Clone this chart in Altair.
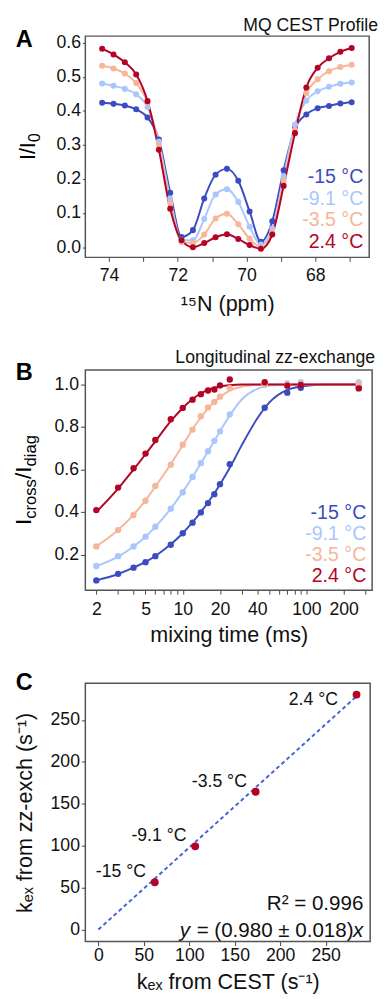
import altair as alt
import pandas as pd

FONT = "Liberation Sans"
TEMPS = ["-15 °C", "-9.1 °C", "-3.5 °C", "2.4 °C"]
COLORS = ["#3B4CC0", "#AAC7FD", "#F7B599", "#B40426"]

# ---------------- Panel A : MQ CEST profile ----------------
cest_ppm = [74.20, 73.87, 73.54, 73.21, 72.88, 72.55, 72.22, 71.89, 71.56, 71.23, 70.90, 70.57,
            70.24, 69.91, 69.58, 69.25, 68.92, 68.59, 68.26, 67.93, 67.60, 67.27, 66.94]
cest_m15 = [0.424, 0.421, 0.416, 0.405, 0.381, 0.316, 0.160, 0.030, 0.050, 0.143, 0.213, 0.230,
            0.195, 0.105, 0.016, 0.076, 0.226, 0.349, 0.390, 0.408, 0.415, 0.422, 0.426]
cest_m91 = [0.481, 0.474, 0.465, 0.449, 0.411, 0.310, 0.143, 0.020, 0.020, 0.083, 0.155, 0.170,
            0.133, 0.060, 0.008, 0.055, 0.208, 0.360, 0.430, 0.458, 0.471, 0.480, 0.484]
cest_m35 = [0.533, 0.525, 0.510, 0.482, 0.425, 0.300, 0.130, 0.015, 0.012, 0.037, 0.084, 0.098,
            0.067, 0.025, 0.000, 0.045, 0.195, 0.345, 0.452, 0.493, 0.517, 0.529, 0.536]
cest_p24 = [0.583, 0.566, 0.543, 0.507, 0.429, 0.286, 0.113, 0.020, 0.000, 0.012, 0.029, 0.038,
            0.024, 0.006, -0.005, 0.037, 0.180, 0.335, 0.469, 0.527, 0.555, 0.574, 0.585]
ppm_ticks = [67, 68, 69, 70, 71, 72, 73, 74]
i_ticks = [0.0, 0.1, 0.2, 0.3, 0.4, 0.5, 0.6]

# ---------------- Panel B : zz-exchange ----------------
zz_time = [2, 3, 4, 5, 6, 8, 10, 12, 14, 16, 18, 20, 24, 46, 70, 90, 265]
zz_m15 = [0.078, 0.109, 0.138, 0.164, 0.192, 0.246, 0.300, 0.350, 0.398, 0.442, 0.484, 0.531,
          0.625, 0.891, 0.962, 0.985, 0.991]
zz_m91 = [0.146, 0.192, 0.238, 0.284, 0.331, 0.416, 0.493, 0.565, 0.630, 0.686, 0.735, 0.780,
          0.860, 0.999, 1.006, 1.011, 1.011]
zz_m35 = [0.238, 0.315, 0.386, 0.453, 0.523, 0.623, 0.717, 0.788, 0.851, 0.892, 0.918, 0.943,
          0.983, 1.000, 1.000, 1.002, 1.000]
zz_p24 = [0.409, 0.515, 0.606, 0.675, 0.739, 0.837, 0.890, 0.929, 0.955, 0.972, 0.977, 0.996,
          1.024, 1.011, 0.995, 0.998, 0.982]
fit_time = [2, 3, 4, 5, 6, 8, 10, 12, 14, 16, 18, 20, 24, 30, 40, 50, 70, 100, 150, 265]
fit_m15 = [0.078, 0.108, 0.138, 0.165, 0.193, 0.248, 0.300, 0.352, 0.400, 0.445, 0.488, 0.530,
           0.608, 0.715, 0.840, 0.915, 0.975, 0.995, 1.000, 1.000]
fit_m91 = [0.145, 0.190, 0.238, 0.284, 0.330, 0.416, 0.495, 0.565, 0.630, 0.685, 0.735, 0.780,
           0.855, 0.930, 0.980, 0.995, 1.000, 1.000, 1.000, 1.000]
fit_m35 = [0.238, 0.315, 0.388, 0.455, 0.520, 0.625, 0.715, 0.790, 0.845, 0.888, 0.918, 0.942,
           0.972, 0.990, 0.998, 1.000, 1.000, 1.000, 1.000, 1.000]
fit_p24 = [0.400, 0.510, 0.600, 0.672, 0.733, 0.828, 0.890, 0.932, 0.958, 0.975, 0.985, 0.991,
           0.997, 1.000, 1.000, 1.000, 1.000, 1.000, 1.000, 1.000]
time_ticks = [2, 3, 4, 5, 6, 7, 8, 9, 10, 20, 30, 40, 50, 60, 70, 80, 90, 100, 200, 300]
time_labels = [2, 5, 10, 20, 40, 100, 200]
zz_ticks = [0.2, 0.4, 0.6, 0.8, 1.0]

# ---------------- Panel C : kex correlation ----------------
kex_cest = [62.0, 106.5, 173.0, 284.0]
kex_zz = [56.4, 99.3, 164.4, 280.4]
kex_fit_x = [0.0, 284.0]
kex_fit_y = [0.0, 278.3]
kex_ticks = [0, 50, 100, 150, 200, 250]

# ---------------- helpers ----------------
CW = {"I": 0.278, "/": 0.278, "c": 0.5, "r": 0.333, "o": 0.556, "s": 0.5, "d": 0.556,
      "i": 0.222, "a": 0.556, "g": 0.556, "0": 0.556}


def tw(s, size):
    return sum(CW[ch] for ch in s) * size


def rotated_title(pieces, x, yc):
    total = sum(tw(t, s) for t, s, _ in pieces)
    layers, off = [], 0.0
    for t, s, dy in pieces:
        layers.append(
            alt.Chart(pd.DataFrame({"t": [t]})).mark_text(
                angle=270, align="left", baseline="alphabetic", font=FONT, fontSize=s,
                dx=off, dy=dy, color="black").encode(
                x=alt.value(x), y=alt.value(yc + total / 2), text="t:N"))
        off += tw(t, s)
    return layers


def label_text(txt, x, y, size=24, weight="bold", align="left", color="black", baseline="alphabetic"):
    return alt.Chart(pd.DataFrame({"t": [txt]})).mark_text(
        font=FONT, fontSize=size, fontWeight=weight, align=align, baseline=baseline,
        color=color).encode(x=alt.value(x), y=alt.value(y), text="t:N")


def long_df(xs, series, xname, yname):
    rows = []
    for t, ys in zip(TEMPS, series):
        for xv, yv in zip(xs, ys):
            rows.append({xname: xv, yname: yv, "T": t})
    return pd.DataFrame(rows)


color_enc = alt.Color("T:N", scale=alt.Scale(domain=TEMPS, range=COLORS), legend=None)
ax_common = dict(grid=False, domain=False, tickColor="#444", tickWidth=1,
                 labelFont=FONT, labelFontSize=18, labelColor="#111",
                 titleFont=FONT, titleFontSize=22, titleFontWeight="normal", titleColor="#111")

# ---------------- Panel A chart ----------------
WA, HA = 290, 226
dfa = long_df(cest_ppm, [cest_m15, cest_m91, cest_m35, cest_p24], "ppm", "I")
xa = alt.X("ppm:Q", scale=alt.Scale(domain=[66.43, 74.69], reverse=True, nice=False, zero=False),
           axis=alt.Axis(values=ppm_ticks, labelExpr="datum.value % 2 == 0 ? datum.label : ''",
                         title="¹⁵N (ppm)", tickSize=4, labelPadding=6, titlePadding=9, **ax_common))
ya = alt.Y("I:Q", scale=alt.Scale(domain=[-0.03, 0.62], nice=False, zero=False),
           axis=alt.Axis(values=i_ticks, format=".1f", title=None, tickSize=3, labelPadding=2, **ax_common))
base_a = alt.Chart(dfa).encode(x=xa, y=ya, color=color_enc)
a_layers = [base_a.mark_line(interpolate="monotone", strokeWidth=2),
            base_a.mark_point(filled=True, opacity=1, size=38)]
for i, t in enumerate(TEMPS):
    a_layers.append(label_text(t, 284, 144 + 22 * i, size=20, weight="normal", align="right",
                               color=COLORS[i], baseline="middle"))
a_layers.append(label_text("A", -71, 11))
a_layers.append(label_text("MQ CEST Profile", 299, -5.7, size=18, weight="normal", align="right", color="#111"))
a_layers += rotated_title([("I/I", 22, 0), ("0", 16, 5)], -51, HA / 2)
chart_a = alt.layer(*a_layers).properties(width=WA, height=HA)

# ---------------- Panel B chart ----------------
WB, HB = 293, 225
dfb = long_df(zz_time, [zz_m15, zz_m91, zz_m35, zz_p24], "t", "r")
dfb_fit = long_df(fit_time, [fit_m15, fit_m91, fit_m35, fit_p24], "t", "r")
xb = alt.X("t:Q", scale=alt.Scale(type="log", domain=[1.63, 340], nice=False),
           axis=alt.Axis(values=time_ticks, format="d",
                         labelExpr="indexof(" + str(time_labels) + ", datum.value) >= 0 ? datum.label : ''",
                         title="mixing time (ms)", tickSize=4, labelPadding=7, titlePadding=6, **ax_common))
yb = alt.Y("r:Q", scale=alt.Scale(domain=[0.032, 1.069], nice=False, zero=False),
           axis=alt.Axis(values=zz_ticks, format=".1f", title=None, tickSize=5, labelPadding=2, **ax_common))
b_layers = [alt.Chart(dfb_fit).mark_line(interpolate="monotone", strokeWidth=2).encode(x=xb, y=yb, color=color_enc),
            alt.Chart(dfb).mark_point(filled=True, opacity=1, size=42).encode(x=xb, y=yb, color=color_enc)]
for i, t in enumerate(TEMPS):
    b_layers.append(label_text(t, 287, 146 + 21.7 * i, size=20, weight="normal", align="right",
                               color=COLORS[i], baseline="middle"))
b_layers.append(label_text("B", -71, 10))
b_layers.append(label_text("Longitudinal zz-exchange", 296, -7.3, size=18, weight="normal", align="right",
                           color="#111"))
b_layers += rotated_title([("I", 23, 0), ("cross", 17, 5), ("/I", 23, 0), ("diag", 17, 5)], -55, HB / 2)
chart_b = alt.layer(*b_layers).properties(width=WB, height=HB)

# ---------------- Panel C chart ----------------
WC, HC = 291, 264
dfc = pd.DataFrame({"cest": kex_cest, "zz": kex_zz, "T": TEMPS})
dff = pd.DataFrame({"cest": kex_fit_x, "zz": kex_fit_y})
xc = alt.X("cest:Q", scale=alt.Scale(domain=[-14.4, 299], nice=False, zero=False),
           axis=alt.Axis(values=kex_ticks, title="kₑₓ from CEST (s⁻¹)", tickSize=4, labelPadding=1,
                         titlePadding=8, **ax_common))
yc = alt.Y("zz:Q", scale=alt.Scale(domain=[-14.4, 294], nice=False, zero=False),
           axis=alt.Axis(values=kex_ticks, title="kₑₓ from zz-exch (s⁻¹)", tickSize=4, labelPadding=2,
                         titleX=-50, titleY=HC / 2, **ax_common))
c_layers = [
    alt.Chart(dff).mark_line(strokeDash=[4, 3], strokeWidth=2, color="#4462DA").encode(x=xc, y=yc),
    alt.Chart(dfc).mark_point(filled=True, opacity=1, size=64, color="#B40426").encode(x=xc, y=yc),
    alt.Chart(dfc).transform_filter(alt.datum.T != "2.4 °C").mark_text(
        font=FONT, fontSize=18, align="right", baseline="middle", dx=-9, dy=-10, color="#111").encode(
        x=xc, y=yc, text="T:N"),
    alt.Chart(dfc).transform_filter(alt.datum.T == "2.4 °C").mark_text(
        font=FONT, fontSize=18, align="right", baseline="middle", dx=-19, dy=6, color="#111").encode(
        x=xc, y=yc, text="T:N"),
    label_text("R² = 0.996", 284, 231.5, size=21, weight="normal", align="right", color="#111"),
    alt.Chart(pd.DataFrame({"t": ["x"]})).mark_text(font=FONT, fontSize=21, fontStyle="italic",
                                                     align="right", color="#111").encode(
        x=alt.value(284), y=alt.value(253.5), text="t:N"),
    alt.Chart(pd.DataFrame({"t": [" = (0.980 ± 0.018)"]})).mark_text(font=FONT, fontSize=21,
                                                                      align="right", dx=-10, color="#111").encode(
        x=alt.value(284), y=alt.value(253.5), text="t:N"),
    alt.Chart(pd.DataFrame({"t": ["y"]})).mark_text(font=FONT, fontSize=21, fontStyle="italic",
                                                     align="right", dx=-177, color="#111").encode(
        x=alt.value(284), y=alt.value(253.5), text="t:N"),
    label_text("C", -71, 7),
]
chart_c = alt.layer(*c_layers).properties(width=WC, height=HC)

chart = alt.vconcat(alt.vconcat(chart_a, chart_b, spacing=33), chart_c, spacing=25).properties(
    padding={"left": 5, "top": -3, "right": 0, "bottom": 0}
).configure_view(stroke="#555", strokeWidth=1.5)

chart.save("out.html", embed_options={"renderer": "svg", "actions": False})
